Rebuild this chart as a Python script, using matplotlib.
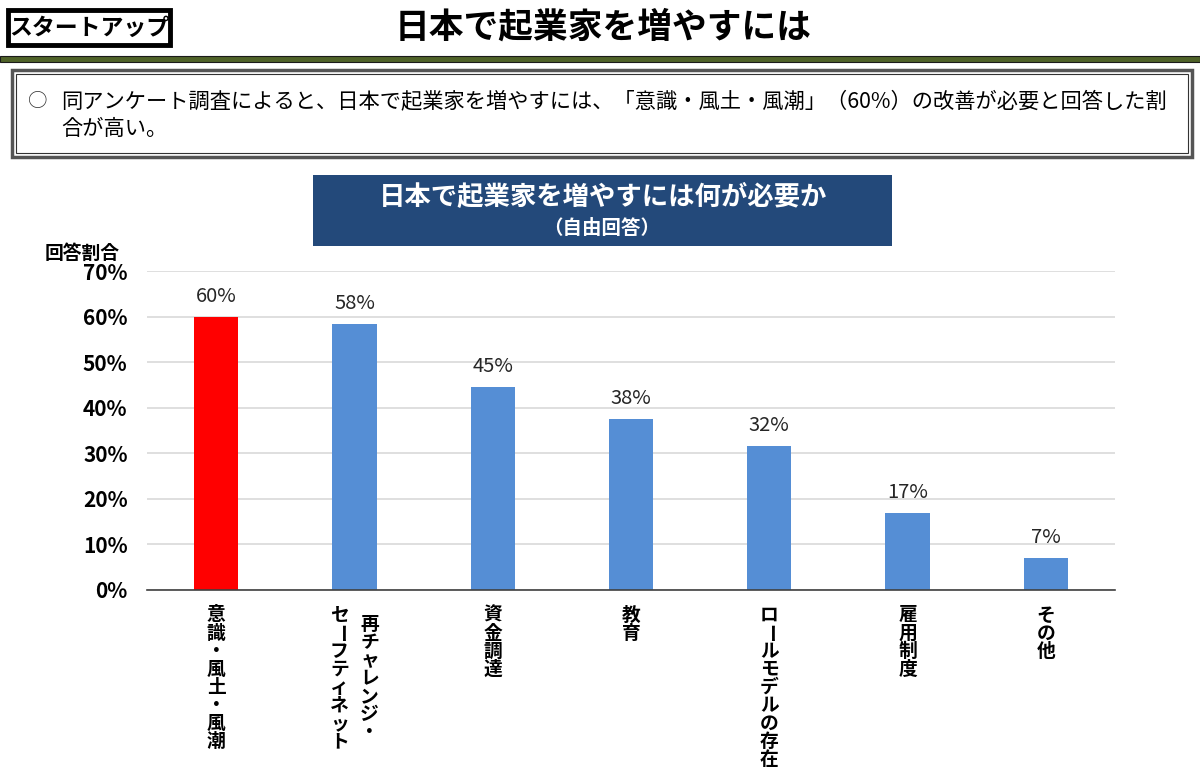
import matplotlib
matplotlib.use("Agg")
import matplotlib.pyplot as plt
from matplotlib.patches import Rectangle

plt.rcParams['font.family'] = ['Noto Sans CJK JP', 'DejaVu Sans']

# ---- data ----
categories = [
    ["意識・風土・風潮"],
    ["再チャレンジ・", "セーフティネット"],
    ["資金調達"],
    ["教育"],
    ["ロールモデルの存在"],
    ["雇用制度"],
    ["その他"],
]
values = [60.0, 58.4, 44.6, 37.6, 31.6, 17.0, 7.0]
value_labels = ["60%", "58%", "45%", "38%", "32%", "17%", "7%"]
bar_colors = ["#FF0000"] + ["#558ED5"] * 6
yticks = [0, 10, 20, 30, 40, 50, 60, 70]
ytick_labels = [f"{t}%" for t in yticks]

page_tag = "スタートアップ"
page_title = "日本で起業家を増やすには"
summary_bullet = "○"
summary_lines = ["同アンケート調査によると、日本で起業家を増やすには、「意識・風土・風潮」（60%）の改善が必要と回答した割",
                 "合が高い。"]
chart_title = "日本で起業家を増やすには何が必要か"
chart_subtitle = "（自由回答）"
y_axis_title = "回答割合"

W, H = 1200, 777
fig = plt.figure(figsize=(W / 100, H / 100), dpi=100)

# overlay axes in pixel coordinates
ov = fig.add_axes([0, 0, 1, 1])
ov.set_xlim(0, W)
ov.set_ylim(H, 0)
ov.axis("off")

# page tag box
ov.add_patch(Rectangle((8, 10), 162, 35, fill=False, edgecolor="black", linewidth=3.5))
ov.text(89, 28, page_tag, ha="center", va="center", fontsize=16.5, fontweight="bold", color="black")
# page title
ov.text(603, 27, page_title, ha="center", va="center", fontsize=25, fontweight="bold", color="black")
# header line
ov.add_patch(Rectangle((0, 56), W, 6, facecolor="#4F6228", edgecolor="#1a1a1a", linewidth=0.8))

# summary box (double border)
ov.add_patch(Rectangle((12, 70), 1180, 87, fill=False, edgecolor="#555555", linewidth=2.5))
ov.add_patch(Rectangle((16, 74), 1172, 79, fill=False, edgecolor="#333333", linewidth=0.8))
ov.text(38, 101, summary_bullet, ha="center", va="center", fontsize=14, color="#333333")
ov.text(61, 101, summary_lines[0], ha="left", va="center", fontsize=15.3, color="black")
ov.text(61, 129, summary_lines[1], ha="left", va="center", fontsize=15.3, color="black")

# chart title box
ov.add_patch(Rectangle((313, 175), 579, 71, facecolor="#23497A", edgecolor="none"))
ov.text(603, 197, chart_title, ha="center", va="center", fontsize=19, fontweight="bold", color="white")
ov.text(602, 228, chart_subtitle, ha="center", va="center", fontsize=14, fontweight="bold", color="white")

# y axis title
ov.text(82, 253, y_axis_title, ha="center", va="center", fontsize=13.5, fontweight="bold", color="black")

# ---- chart axes ----
left, right, top, bottom = 147, 1115, 271, 590
ax = fig.add_axes([left / W, (H - bottom) / H, (right - left) / W, (bottom - top) / H])
x = list(range(len(values)))
ax.bar(x, values, width=0.32, color=bar_colors, zorder=3)
ax.set_xlim(-0.5, len(values) - 0.5)
ax.set_ylim(0, 70)
ax.set_yticks(yticks)
ax.set_yticklabels(ytick_labels, fontsize=15, fontweight="bold", color="black")
ax.tick_params(axis="y", length=0, pad=14)
ax.set_xticks([])
ax.grid(axis="y", color="#D9D9D9", linewidth=1.2, zorder=0)
for s in ["top", "right", "left"]:
    ax.spines[s].set_visible(False)
ax.spines["bottom"].set_color("#404040")
ax.spines["bottom"].set_linewidth(1.2)
ax.spines["bottom"].set_zorder(4)

for xi, v, lab in zip(x, values, value_labels):
    ax.annotate(lab, xy=(xi, v), xytext=(0, 7), textcoords="offset points",
                ha="center", va="bottom", fontsize=14.5, color="#262626")

# vertical category labels, character by character
pt = 72 / 100  # points per pixel
char_step = 18.1  # px
col_gap = 30  # px
for xi, cols in zip(x, categories):
    ncol = len(cols)
    maxlen = max(len(c) for c in cols)
    for ci, col in enumerate(cols):
        # first column is rightmost (vertical writing)
        dx = ((ncol - 1) / 2 - ci) * col_gap
        start = (maxlen - len(col)) / 2 if ncol > 1 else 0
        for k, ch in enumerate(col):
            dy = 25 + (start + k) * char_step
            rot = -90 if ch in "ー" else 0
            ax.annotate(ch, xy=(xi, 0), xycoords=("data", "axes fraction"),
                        xytext=(dx * pt, -dy * pt), textcoords="offset points",
                        ha="center", va="center", fontsize=13.5, fontweight="bold", color="black",
                        rotation=rot, annotation_clip=False)

fig.savefig("out.png", dpi=100)
